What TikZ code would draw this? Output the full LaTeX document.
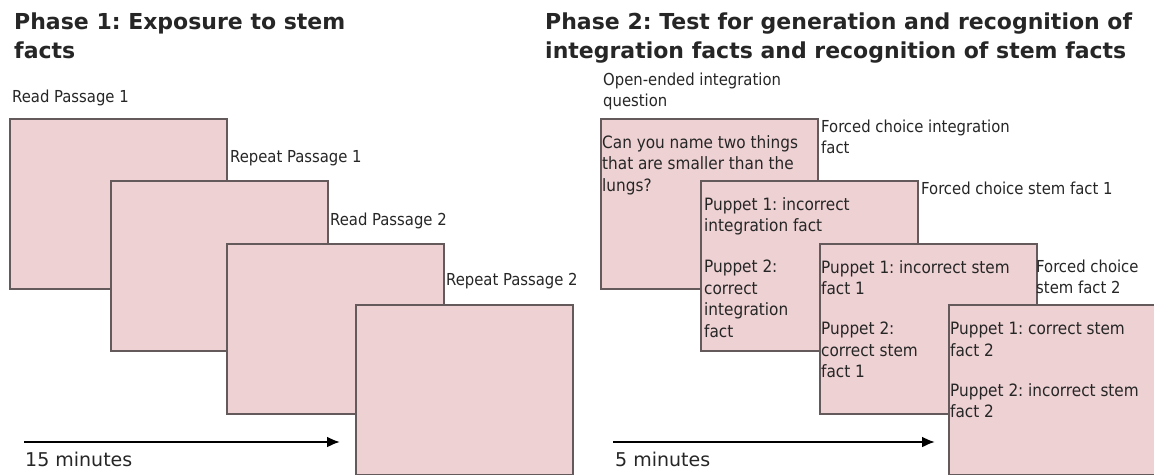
\documentclass[tikz,border=0pt]{standalone}
\usepackage{fontspec}
\setmainfont{DejaVu Sans Condensed}
\newfontfamily\headfont{DejaVu Sans}
\usepackage{tikz}
\usetikzlibrary{arrows.meta}
\definecolor{cardpink}{RGB}{238,209,211}
\definecolor{cardline}{RGB}{100,90,91}
\frenchspacing

\begin{document}
\begin{tikzpicture}[x=1pt,y=-1pt]
	\tikzstyle{every node}+=[inner sep=0pt, text=black!85]
	\tikzstyle{card}=[draw=cardline, fill=cardpink, line width=1.8pt, minimum width=217pt, minimum height=170pt, anchor=north west]
	\tikzstyle{head}=[anchor=north west, align=left, font=\headfont\bfseries\fontsize{22}{29}\selectfont]
	\tikzstyle{lbl}=[anchor=north west, align=left, font=\fontsize{16.5}{20.5}\selectfont]
	\tikzstyle{txt}=[anchor=north west, align=left, font=\fontsize{17}{21.5}\selectfont]
	\tikzstyle{timeline}=[line width=2.2pt, -{Latex[length=13pt,width=11pt]}]
	\tikzstyle{dur}=[anchor=base west, font=\headfont\fontsize{19}{22}\selectfont]
	\useasboundingbox (0,0) rectangle (1154,474);

	% phase 1
	\node[head] (h1) at (14,13) {Phase 1: Exposure to stem\\facts};
	\node[lbl] (l1) at (12,90) {Read Passage 1};
	\node[card] (c1) at (9,118) {};
	\node[lbl] (l2) at (230,150) {Repeat Passage 1};
	\node[card] (c2) at (110,180) {};
	\node[lbl] (l3) at (330,213) {Read Passage 2};
	\node[card] (c3) at (226,243) {};
	\node[lbl] (l4) at (446,273) {Repeat Passage 2};
	\node[card] (c4) at (355,304) {};
	\coordinate (t1s) at (24,442);
	\coordinate (t1e) at (340,442);
	\draw[timeline] (t1s) -- (t1e);
	\node[dur] (d1) at (25,466) {15 minutes};

	% phase 2
	\node[head] (h2) at (545,13) {Phase 2: Test for generation and recognition of\\integration facts and recognition of stem facts};
	\node[lbl] (l5) at (603,73) {Open-ended integration\\question};
	\node[card] (c5) at (600,118) {};
	\node[txt] (q1) at (602,135) {Can you name two things\\that are smaller than the\\lungs?};
	\node[lbl] (l6) at (821,120) {Forced choice integration\\fact};
	\node[card] (c6) at (700,180) {};
	\node[txt] (p1) at (704,197) {Puppet 1: incorrect\\integration fact};
	\node[txt] (p2) at (704,260) {Puppet 2:\\correct\\integration\\fact};
	\node[lbl] (l7) at (921,182) {Forced choice stem fact 1};
	\node[card] (c7) at (819,243) {};
	\node[txt] (p3) at (821,260) {Puppet 1: incorrect stem\\fact 1};
	\node[txt] (p4) at (821,322) {Puppet 2:\\correct stem\\fact 1};
	\node[lbl] (l8) at (1036,260) {Forced choice\\stem fact 2};
	\node[card] (c8) at (948,304) {};
	\node[txt] (p5) at (950,322) {Puppet 1: correct stem\\fact 2};
	\node[txt] (p6) at (950,383) {Puppet 2: incorrect stem\\fact 2};
	\coordinate (t2s) at (613,442);
	\coordinate (t2e) at (935,442);
	\draw[timeline] (t2s) -- (t2e);
	\node[dur] (d2) at (615,466) {5 minutes};
\end{tikzpicture}
\end{document}
